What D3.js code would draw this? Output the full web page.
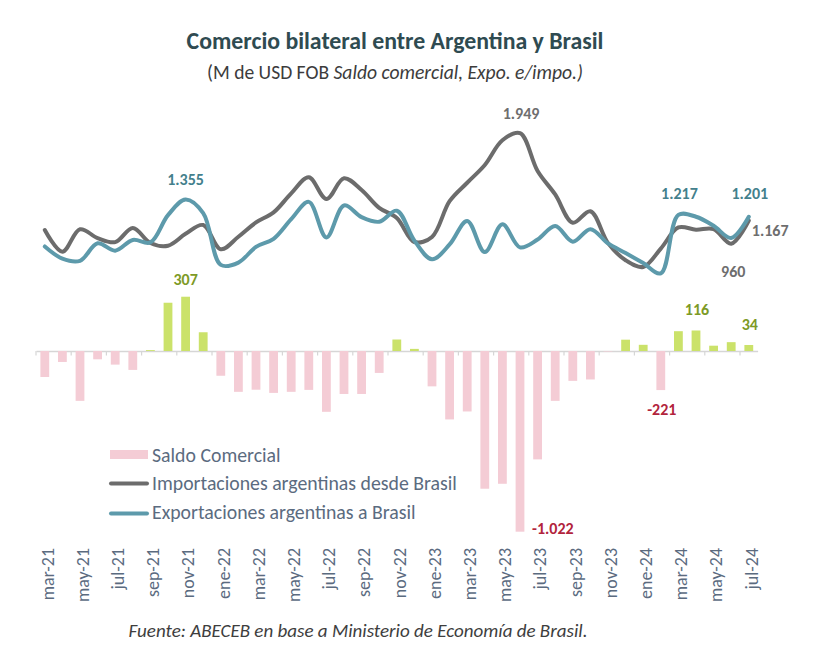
<!DOCTYPE html>
<html><head><meta charset="utf-8">
<script src="https://cdn.jsdelivr.net/npm/d3@7"></script>
<style>body{margin:0;background:#fff;} svg{display:block;}</style>
</head><body><svg id="c" width="822" height="667"></svg>
<script>
const months = ["mar-21","abr-21","may-21","jun-21","jul-21","ago-21","sep-21","oct-21","nov-21","dic-21",
  "ene-22","feb-22","mar-22","abr-22","may-22","jun-22","jul-22","ago-22","sep-22","oct-22","nov-22","dic-22",
  "ene-23","feb-23","mar-23","abr-23","may-23","jun-23","jul-23","ago-23","sep-23","oct-23","nov-23","dic-23",
  "ene-24","feb-24","mar-24","abr-24","may-24","jun-24","jul-24"];
const tickLabels = ["mar-21","may-21","jul-21","sep-21","nov-21","ene-22","mar-22","may-22","jul-22","sep-22","nov-22",
  "ene-23","mar-23","may-23","jul-23","sep-23","nov-23","ene-24","mar-24","may-24","jul-24"];
const importaciones = [1082, 888, 1089, 1010, 974, 1100, 966, 942, 1048, 1127, 910, 1022, 1150, 1240, 1410,
  1554, 1360, 1545, 1440, 1280, 1190, 975, 1020, 1340, 1505, 1664, 1885, 1949, 1610, 1400, 1147, 1250, 965,
  812, 752, 916, 1105, 1085, 1090, 960, 1167];
const exportaciones = [935, 826, 807, 963, 897, 993, 971, 1215, 1355, 1233, 770, 791, 931, 1003, 1179,
  1334, 1016, 1302, 1197, 1156, 1255, 987, 820, 953, 1163, 885, 1134, 927, 997, 1118, 978, 1089, 962,
  876, 787, 695, 1217, 1201, 1120, 1010, 1201];
const saldo = [-147, -62, -282, -47, -77, -107, 5, 273, 307, 106, -140, -231, -219, -237, -231,
  -220, -344, -243, -243, -124, 65, 12, -200, -387, -342, -779, -751, -1022, -613, -282, -169, -161, -3,
  64, 35, -221, 112, 116, 30, 50, 34];
const seriesNames = ["Saldo Comercial", "Importaciones argentinas desde Brasil", "Exportaciones argentinas a Brasil"];
// labelled points: [series, monthIndex]
const impoLabels = [27, 40, 39];
const expoLabels = [8, 36, 40];
const saldoLabels = [8, 37, 40, 35, 27];

const FONT = "Carlito, Calibri, Lato, 'Open Sans', sans-serif";
const C = {pink:"#f4ccd5", green:"#cbe26a", grey:"#6c6c6c", blue:"#5d9aab",
  greyTxt:"#6e6e6e", tealTxt:"#43808c", oliveTxt:"#7d9a26", redTxt:"#b2243c",
  slate:"#5b6b7f", axis:"#d6d6d6", title:"#2f4b51"};

const loc = d3.formatLocale({decimal:",", thousands:".", grouping:[3], currency:["$",""], minus:"-"});
const fmt = loc.format(",d");

const svg = d3.select("#c");
svg.append("rect").attr("width",822).attr("height",667).attr("fill","#fff");

const zeroY = 351;
const x = d3.scaleBand().domain(months).range([36, 757.6]).paddingInner(0.5).paddingOuter(0.25);
const cx = d => x(d) + x.bandwidth()/2;
const yBar = d3.scaleLinear().domain([-1200, 400]).range([zeroY + 1200*0.1768, zeroY - 400*0.1768]);
const yLine = d3.scaleLinear().domain([0, 2000]).range([zeroY, zeroY - 2000*0.1118]);

function fit(sel, w){
  const fs = parseFloat(sel.attr("font-size"));
  const len = sel.node().getComputedTextLength();
  const nf = fs*w/len;
  sel.attr("font-size", nf);
  return nf;
}

// Title
const t1 = svg.append("text").attr("x",395).attr("y",49).attr("text-anchor","middle")
  .attr("font-family",FONT).attr("font-weight","bold").attr("font-size",20).attr("fill",C.title)
  .text("Comercio bilateral entre Argentina y Brasil");
fit(t1, 417);
const t2 = svg.append("text").attr("x",395).attr("y",79).attr("text-anchor","middle")
  .attr("font-family",FONT).attr("font-size",17).attr("fill","#3c3c3c");
t2.append("tspan").text("(M de USD FOB ");
t2.append("tspan").attr("font-style","italic").text("Saldo comercial, Expo. e/impo.)");
fit(t2, 376);

// Axis
const axis = d3.axisBottom(x).tickValues(tickLabels).tickSize(0).tickPadding(0);
const gAx = svg.append("g").attr("transform",`translate(0,${zeroY})`).call(axis);
gAx.select(".domain").attr("stroke",C.axis).attr("stroke-width",1.6);
const tickTxt = gAx.selectAll(".tick text")
  .attr("transform","rotate(-90)").attr("x",-(548-zeroY)).attr("y",2.5).attr("dy","0.35em")
  .attr("text-anchor","end").attr("font-family",FONT).attr("font-size",13).attr("fill",C.slate);
const mayNode = tickTxt.filter(d => d === "may-21");
const tfs = fit(mayNode, 54);
tickTxt.attr("font-size", tfs);
// boundary tick marks every two months
const step = x.step();
svg.append("g").selectAll("line").data(months.filter((d,i)=>i%2===0)).join("line")
  .attr("x1", d => x(d) - (step - x.bandwidth())/2).attr("x2", d => x(d) - (step - x.bandwidth())/2)
  .attr("y1", zeroY).attr("y2", zeroY+4.5).attr("stroke",C.axis).attr("stroke-width",1.2);

// Bars
svg.append("g").selectAll("rect").data(saldo).join("rect")
  .attr("x",(d,i)=>x(months[i])).attr("width",x.bandwidth())
  .attr("y",d=>Math.min(yBar(d),yBar(0))).attr("height",d=>Math.abs(yBar(d)-yBar(0)))
  .attr("fill",d=>d>=0?C.green:C.pink);

// Lines
const line = d3.line().x((d,i)=>cx(months[i])).y(d=>yLine(d)).curve(d3.curveCatmullRom.alpha(0.5));
svg.append("path").datum(importaciones).attr("d",line).attr("fill","none")
  .attr("stroke",C.grey).attr("stroke-width",4).attr("stroke-linejoin","round").attr("stroke-linecap","round");
svg.append("path").datum(exportaciones).attr("d",line).attr("fill","none")
  .attr("stroke",C.blue).attr("stroke-width",4).attr("stroke-linejoin","round").attr("stroke-linecap","round");

// Value labels
const lab = svg.append("g").attr("font-family",FONT).attr("font-weight","bold").attr("font-size",16);
const impoOff = {27:[1,-14,"middle"], 40:[3,15.5,"start"], 39:[2,33,"middle"]};
impoLabels.forEach(i=>{
  const o = impoOff[i];
  lab.append("text").attr("class","vl").attr("x",cx(months[i])+o[0]).attr("y",yLine(importaciones[i])+o[1])
    .attr("text-anchor",o[2]).attr("fill",C.greyTxt).text(fmt(importaciones[i]));
});
const expoOff = {8:[0,-14.5], 36:[1,-16], 40:[1,-17.5]};
expoLabels.forEach(i=>{
  const o = expoOff[i];
  lab.append("text").attr("class","vl").attr("x",cx(months[i])+o[0]).attr("y",yLine(exportaciones[i])+o[1])
    .attr("text-anchor","middle").attr("fill",C.tealTxt).text(fmt(exportaciones[i]));
});
const saldoOff = {8:[0,-11.5,"middle"], 37:[1,-15.5,"middle"], 40:[1,-15,"middle"], 35:[1,25,"middle"], 27:[12,2.5,"start"]};
saldoLabels.forEach(i=>{
  const o = saldoOff[i];
  lab.append("text").attr("class","vl").attr("x",cx(months[i])+o[0]).attr("y",yBar(saldo[i])+o[1])
    .attr("text-anchor",o[2]).attr("fill",saldo[i]>=0?C.oliveTxt:C.redTxt).text(fmt(saldo[i]));
});
const ref = lab.selectAll("text").filter(function(){return this.textContent==="1.949";});
const vfs = fit(ref, 40.7);
lab.selectAll("text").attr("font-size", vfs);

// Legend
const lg = svg.append("g").attr("font-family",FONT).attr("fill",C.slate);
lg.append("rect").attr("x",110).attr("y",450).attr("width",38).attr("height",9).attr("fill",C.pink);
lg.append("line").attr("x1",111).attr("x2",147).attr("y1",483.5).attr("y2",483.5)
  .attr("stroke",C.grey).attr("stroke-width",4).attr("stroke-linecap","round");
lg.append("line").attr("x1",111).attr("x2",147).attr("y1",513.5).attr("y2",513.5)
  .attr("stroke",C.blue).attr("stroke-width",4).attr("stroke-linecap","round");
const lt = lg.selectAll("text.l").data(seriesNames).join("text").attr("class","l")
  .attr("x",152).attr("y",(d,i)=>[461.5,489.5,519][i]).attr("font-size",17).text(d=>d);
const lfs = fit(lt.filter((d,i)=>i===1), 305);
lt.attr("font-size", lfs);

// Footer
const ft = svg.append("text").attr("x",358).attr("y",637).attr("text-anchor","middle")
  .attr("font-family",FONT).attr("font-style","italic").attr("font-size",18).attr("fill","#3e3e3e")
  .text("Fuente: ABECEB en base a Ministerio de Economía de Brasil.");
fit(ft, 459);
</script>
</body></html>
